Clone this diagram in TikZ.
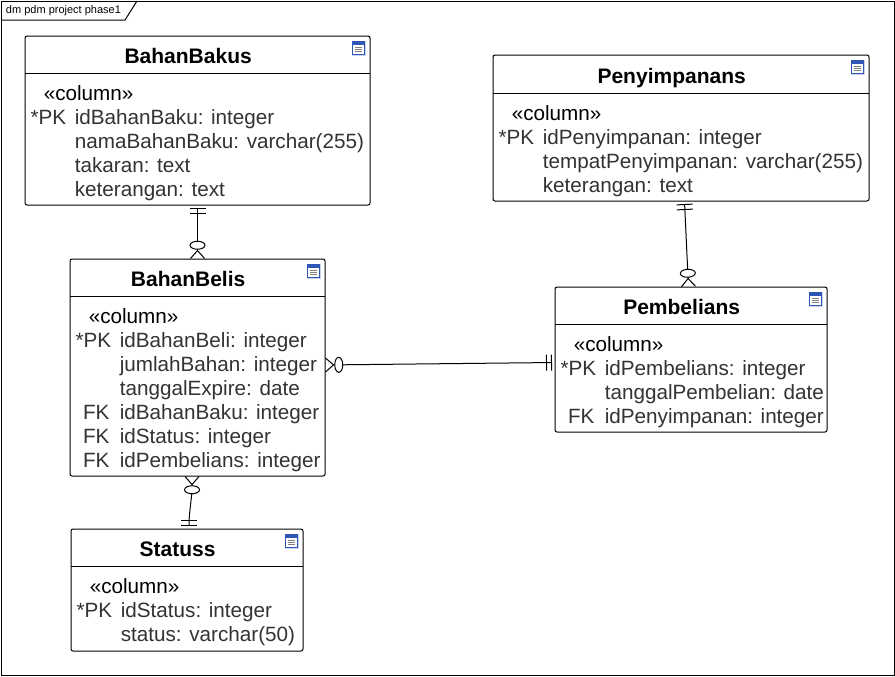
\documentclass[tikz,border=0pt]{standalone}
\usepackage{fontspec}
\setmainfont{Liberation Sans}
\usetikzlibrary{arrows.meta,positioning}
\definecolor{rowgray}{HTML}{333333}
\definecolor{iconhalo}{HTML}{C9D6F2}
\definecolor{iconblue}{HTML}{2F55B5}
\tikzset{
  onebar/.tip={Bar[width=12pt,sep=3pt]Bar[width=12pt,sep=2.25pt]},
  crowfoot/.tip={Circle[open,fill=white,length=6.75pt,width=12pt,sep=0pt]Straight Barb[reversed,length=6pt,width=10.5pt]},
  tablebox/.style={draw,rounded corners=1.5pt,line width=.75pt,inner sep=0pt,outer sep=0pt},
  tabletitle/.style={font=\fontsize{15.75}{18}\selectfont\bfseries,inner sep=0pt,text height=11pt,text depth=3pt,xshift=-7pt},
  stereotype/.style={font=\fontsize{15.5}{18}\selectfont,inner sep=0pt,align=left},
  rowtext/.style={font=\fontsize{15.5}{18}\selectfont,text=rowgray,inner sep=0pt,align=left},
  keytext/.style={font=\fontsize{15.5}{18}\selectfont,text=rowgray,inner sep=0pt,align=right,text width=25.5pt},
  tableicon/.style={fill=iconhalo,inner sep=0pt,minimum width=10.5pt,minimum height=11.25pt,path picture={
      \draw[iconblue,line width=.6pt,fill=white] ([xshift=1pt,yshift=-1pt]path picture bounding box.north west) rectangle ([xshift=-1pt,yshift=1pt]path picture bounding box.south east);
      \fill[iconblue] ([xshift=1pt,yshift=-1pt]path picture bounding box.north west) rectangle ([xshift=-1pt,yshift=-3.5pt]path picture bounding box.north east);
      \draw[gray,line width=.5pt] ([xshift=2.5pt,yshift=-5pt]path picture bounding box.north west) -- ([xshift=-2.5pt,yshift=-5pt]path picture bounding box.north east);
      \draw[gray,line width=.5pt] ([xshift=2.5pt,yshift=-6.5pt]path picture bounding box.north west) -- ([xshift=-2.5pt,yshift=-6.5pt]path picture bounding box.north east);
      \draw[gray,line width=.5pt] ([xshift=2.5pt,yshift=-8pt]path picture bounding box.north west) -- ([xshift=-2.5pt,yshift=-8pt]path picture bounding box.north east);
    }},
}
\begin{document}
\begin{tikzpicture}[x=.75pt,y=-.75pt,line width=.75pt]
\useasboundingbox (0,0) rectangle (895,676);
\fill[white] (0,0) rectangle (895,676);
% frame
\node[draw,line width=.75pt,minimum width=669.75pt,minimum height=505.5pt,inner sep=0pt,outer sep=0pt] (frame) at (447.5,338) {};
\node[font=\fontsize{8.25}{10}\selectfont,inner sep=0pt,anchor=west] (framelabel) at (5.5,10.5) {dm pdm project phase1};
\draw (frame.north west |- 0,20) -- (125,20) -- (137,1);
% tables
\node[tablebox,minimum width=258.75pt,minimum height=126.75pt] (bb) at (197.5,120.5) {};
\node[tabletitle,below=9.25pt of bb.north] (bbtitle) {BahanBakus};
\draw ([yshift=-27.75pt]bb.north west) -- ([yshift=-27.75pt]bb.north east);
\node[stereotype,below right=35.25pt and 13.75pt of bb.north west] (bbstereo) {\strut«column»};
\node[keytext,below right=53.25pt and 3.75pt of bb.north west] (bbkeys) {\strut*PK};
\node[rowtext,below right=53.25pt and 37pt of bb.north west] (bbrows) {\strut idBahanBaku: integer\\namaBahanBaku: varchar(255)\\takaran: text\\keterangan: text};
\node[tableicon,below left=3pt and 3pt of bb.north east] (bbicon) {};

\node[tablebox,minimum width=191.25pt,minimum height=162.75pt] (bl) at (197.5,367.5) {};
\node[tabletitle,below=9.25pt of bl.north] (bltitle) {BahanBelis};
\draw ([yshift=-27.75pt]bl.north west) -- ([yshift=-27.75pt]bl.north east);
\node[stereotype,below right=35.25pt and 13.75pt of bl.north west] (blstereo) {\strut«column»};
\node[keytext,below right=53.25pt and 3.75pt of bl.north west] (blkeys) {\strut*PK\\~\\~\\FK\\FK\\FK};
\node[rowtext,below right=53.25pt and 37pt of bl.north west] (blrows) {\strut idBahanBeli: integer\\jumlahBahan: integer\\tanggalExpire: date\\idBahanBaku: integer\\idStatus: integer\\idPembelians: integer};
\node[tableicon,below left=3pt and 3pt of bl.north east] (blicon) {};

\node[tablebox,minimum width=174pt,minimum height=91.5pt] (st) at (187,590) {};
\node[tabletitle,below=9.25pt of st.north] (sttitle) {Statuss};
\draw ([yshift=-27.75pt]st.north west) -- ([yshift=-27.75pt]st.north east);
\node[stereotype,below right=35.25pt and 13.75pt of st.north west] (ststereo) {\strut«column»};
\node[keytext,below right=53.25pt and 3.75pt of st.north west] (stkeys) {\strut*PK};
\node[rowtext,below right=53.25pt and 37pt of st.north west] (strows) {\strut idStatus: integer\\status: varchar(50)};
\node[tableicon,below left=3pt and 3pt of st.north east] (sticon) {};

\node[tablebox,minimum width=282pt,minimum height=109.5pt] (py) at (681,128) {};
\node[tabletitle,below=10pt of py.north] (pytitle) {Penyimpanans};
\draw ([yshift=-28.5pt]py.north west) -- ([yshift=-28.5pt]py.north east);
\node[stereotype,below right=36pt and 13.75pt of py.north west] (pystereo) {\strut«column»};
\node[keytext,below right=54pt and 3.75pt of py.north west] (pykeys) {\strut*PK};
\node[rowtext,below right=54pt and 37pt of py.north west] (pyrows) {\strut idPenyimpanan: integer\\tempatPenyimpanan: varchar(255)\\keterangan: text};
\node[tableicon,below left=3pt and 3pt of py.north east] (pyicon) {};

\node[tablebox,minimum width=204pt,minimum height=108.75pt] (pb) at (691,359.5) {};
\node[tabletitle,below=9.25pt of pb.north] (pbtitle) {Pembelians};
\draw ([yshift=-27.75pt]pb.north west) -- ([yshift=-27.75pt]pb.north east);
\node[stereotype,below right=35.25pt and 13.75pt of pb.north west] (pbstereo) {\strut«column»};
\node[keytext,below right=53.25pt and 3.75pt of pb.north west] (pbkeys) {\strut*PK\\~\\FK};
\node[rowtext,below right=53.25pt and 37pt of pb.north west] (pbrows) {\strut idPembelians: integer\\tanggalPembelian: date\\idPenyimpanan: integer};
\node[tableicon,below left=3pt and 3pt of pb.north east] (pbicon) {};
% relations
\draw[{onebar}-{crowfoot}] (bb.south) -- (bl.north);
\draw[{onebar}-{crowfoot}] ([xshift=2.6pt]py.south) -- ([xshift=-1.9pt]pb.north);
\draw[{onebar}-{crowfoot}] ([yshift=-2.25pt]pb.west) -- ([yshift=1.9pt]bl.east);
\draw[{onebar}-{crowfoot}] ([xshift=1.5pt]st.north) .. controls +(0,14pt) and +(0,-18pt) .. ([xshift=-4.1pt]bl.south);
\end{tikzpicture}
\end{document}
